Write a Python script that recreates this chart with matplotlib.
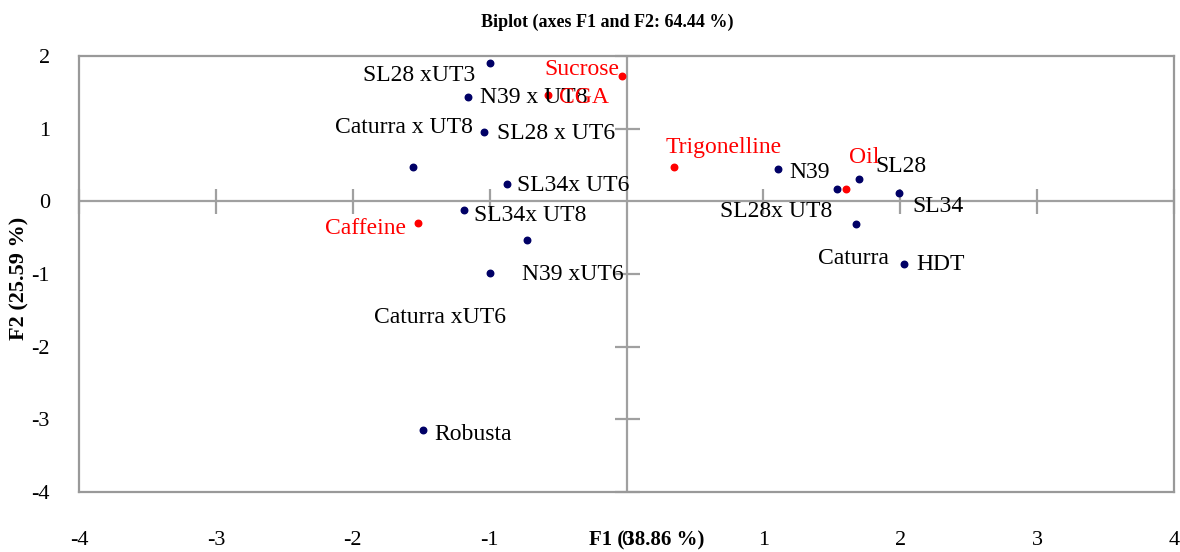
"""XLSTAT-style PCA biplot (F1 x F2) recreated with matplotlib."""
import matplotlib
matplotlib.use("Agg")
import matplotlib.pyplot as plt
import numpy as np

# observations (genotypes)
obs_names = ["SL28 xUT3", "N39 x UT8", "SL28 x UT6", "Caturra x UT8", "SL34x UT6",
             "SL34x UT8", "N39 xUT6", "Caturra xUT6", "Robusta", "N39",
             "SL28x UT8", "SL28", "SL34", "Caturra", "HDT"]
obs_f1 = [-1.00, -1.16, -1.04, -1.56, -0.87, -1.19, -0.73, -1.00, -1.49, 1.11,
          1.54, 1.70, 1.99, 1.68, 2.03]
obs_f2 = [1.90, 1.43, 0.96, 0.47, 0.24, -0.12, -0.53, -0.99, -3.15, 0.44,
          0.17, 0.31, 0.12, -0.31, -0.86]

# variables (biochemical compounds)
var_names = ["Sucrose", "CGA", "Trigonelline", "Oil", "Caffeine"]
var_f1 = [-0.03, -0.57, 0.35, 1.60, -1.52]
var_f2 = [1.72, 1.46, 0.47, 0.17, -0.30]

x_ticks = [-4, -3, -2, -1, 0, 1, 2, 3, 4]
y_ticks = [-4, -3, -2, -1, 0, 1, 2]

# label placement (offset in pixels, horizontal alignment)
obs_label_pos = {
    "SL28 xUT3": (-14, -12, "right"),
    "N39 x UT8": (12, 0, "left"),
    "SL28 x UT6": (13, -2, "left"),
    "Caturra x UT8": (-9, 40, "center"),
    "SL34x UT6": (10, -2, "left"),
    "SL34x UT8": (10, -5, "left"),
    "N39 xUT6": (-5, -35, "left"),
    "Caturra xUT6": (-50, -44, "center"),
    "Robusta": (12, -4, "left"),
    "N39": (11, -3, "left"),
    "SL28x UT8": (-5, -23, "right"),
    "SL28": (16, 12, "left"),
    "SL34": (13, -14, "left"),
    "Caturra": (-3, -35, "center"),
    "HDT": (12, -1, "left"),
}
var_label_pos = {
    "Sucrose": (-3, 7, "right"),
    "CGA": (11, -2, "left"),
    "Trigonelline": (-9, 20, "left"),
    "Oil": (4, 31, "left"),
    "Caffeine": (-12, -5, "right"),
}

plt.rcParams["font.family"] = ["Liberation Serif", "DejaVu Serif"]

fig = plt.figure(figsize=(11.8, 5.52), dpi=100)
ax = fig.add_axes([79 / 1180, 1 - 492 / 552, 1095 / 1180, 436 / 552])
ax.set_xlim(-4, 4)
ax.set_ylim(-4, 2)

grey = "#a0a0a0"
for spine in ax.spines.values():
    spine.set_edgecolor("#999999")
    spine.set_linewidth(1.6)

# zero axes with crossing tick marks
ax.axhline(0, color=grey, linewidth=1.6, zorder=1)
ax.axvline(0, color=grey, linewidth=1.6, zorder=1)
xt = np.array([t for t in x_ticks if t != 0])
yt = np.array([t for t in y_ticks if t != 0])
ax.plot(xt, np.zeros_like(xt), ls="none", marker="|", ms=18, mew=1.6,
        color=grey, zorder=1, clip_on=False)
ax.plot(np.zeros_like(yt), yt, ls="none", marker="_", ms=18, mew=1.6,
        color=grey, zorder=1, clip_on=False)

ax.set_xticks(x_ticks)
ax.set_yticks(y_ticks)
ax.tick_params(axis="both", length=0, labelsize=16)
ax.tick_params(axis="x", pad=28)
ax.tick_params(axis="y", pad=21)
ax.set_xticklabels([f"{t:g}" for t in x_ticks])
ax.set_yticklabels([f"{t:g}" for t in y_ticks])

ax.scatter(obs_f1, obs_f2, s=22, color="#000066", zorder=3)
ax.scatter(var_f1, var_f2, s=22, color="#ff0000", zorder=3)

for name, x, y in zip(obs_names, obs_f1, obs_f2):
    dx, dy, ha = obs_label_pos[name]
    ax.annotate(name, (x, y), xytext=(dx, dy), textcoords="offset pixels",
                ha=ha, va="center", fontsize=17, color="black", zorder=4)
for name, x, y in zip(var_names, var_f1, var_f2):
    dx, dy, ha = var_label_pos[name]
    ax.annotate(name, (x, y), xytext=(dx, dy), textcoords="offset pixels",
                ha=ha, va="center", fontsize=17, color="#ff0000", zorder=4)

ax.set_xlabel("F1 (38.86 %)", fontsize=15, fontweight="bold")
ax.xaxis.set_label_coords((647 - 79) / 1095, (492 - 540) / 436)
ax.xaxis.label.set_va("center")
ax.set_ylabel("F2 (25.59 %)", fontsize=16, fontweight="bold")
ax.yaxis.set_label_coords((19 - 79) / 1095, (492 - 278) / 436)
ax.yaxis.label.set_va("center")

fig.text(607 / 1180, 1 - 22 / 552, "Biplot (axes F1 and F2: 64.44 %)",
         ha="center", va="center", fontsize=13, fontweight="bold")

fig.savefig("out.png", dpi=100, facecolor="white")
plt.close(fig)
